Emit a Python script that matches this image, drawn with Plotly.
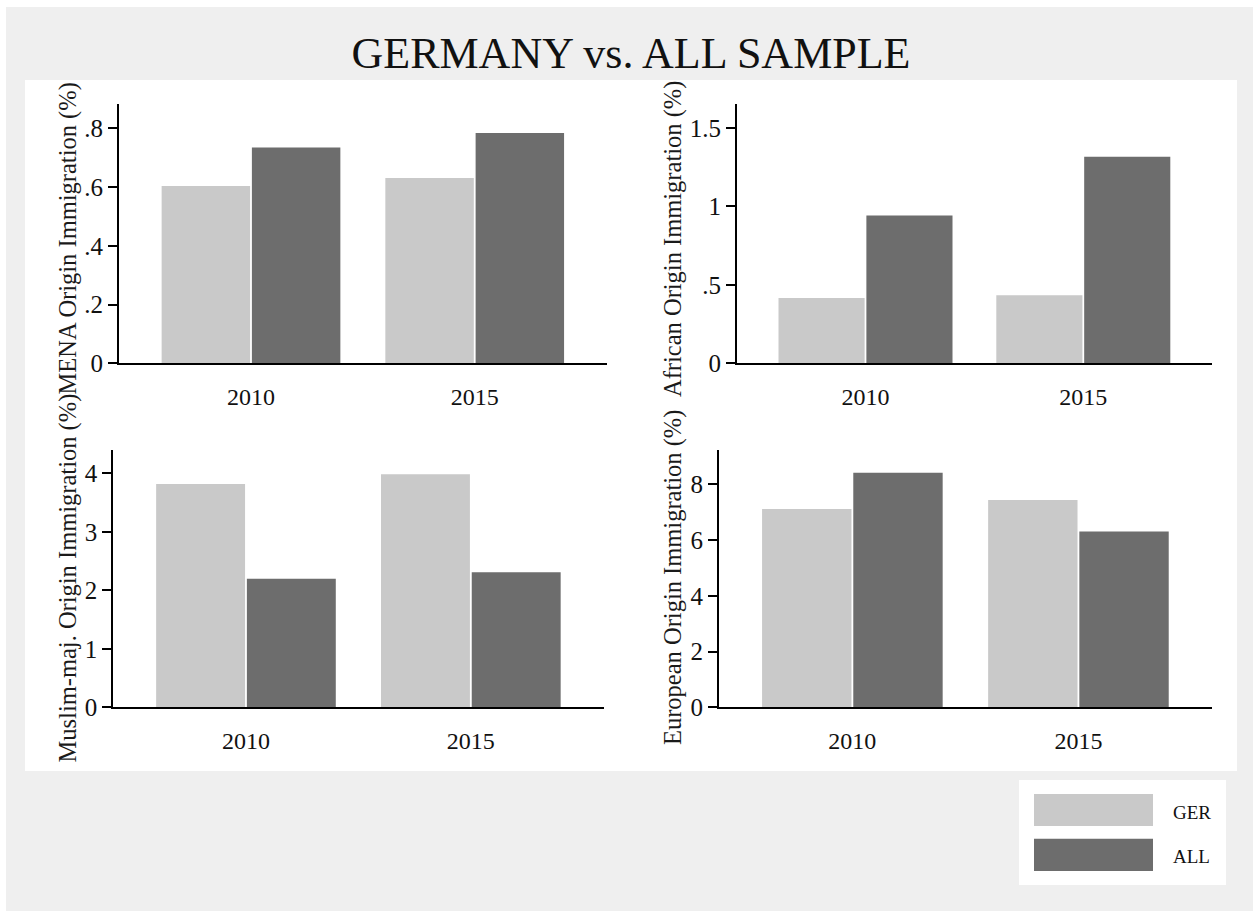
import plotly.graph_objects as go

W = 1253
REF_H = 911          # reference picture height (positions are measured in it)
H = 925              # figure height that fills the browser viewport

years = ["2010", "2015"]
series_names = ["GER", "ALL"]
series_colors = ["#c9c9c9", "#6d6d6d"]

mena_ger = [0.604, 0.631]
mena_all = [0.735, 0.784]
african_ger = [0.417, 0.434]
african_all = [0.942, 1.317]
muslim_ger = [3.817, 3.983]
muslim_all = [2.199, 2.31]
european_ger = [7.11, 7.44]
european_all = [8.41, 6.31]

y_titles = [
    "MENA Origin Immigration (%)",
    "African Origin Immigration (%)",
    "Muslim-maj. Origin Immigration (%)",
    "European Origin Immigration (%)",
]
y_tickvals = [
    [0, 0.2, 0.4, 0.6, 0.8],
    [0, 0.5, 1, 1.5],
    [0, 1, 2, 3, 4],
    [0, 2, 4, 6, 8],
]
y_ticktext = [
    ["0", ".2", ".4", ".6", ".8"],
    ["0", ".5", "1", "1.5"],
    ["0", "1", "2", "3", "4"],
    ["0", "2", "4", "6", "8"],
]
y_ranges = [[0, 0.883], [0, 1.653], [0, 4.398], [0, 9.23]]
title_text = "GERMANY vs. ALL SAMPLE"

panels = [
    (mena_ger, mena_all),
    (african_ger, african_all),
    (muslim_ger, muslim_all),
    (european_ger, european_all),
]

# reference-pixel geometry of the plot areas (left, right, top, bottom)
px_boxes = [
    (119, 606.7, 104, 363.3),
    (737, 1211.8, 104, 363.3),
    (113.3, 603.5, 450, 707.3),
    (719, 1211.8, 450, 707.3),
]
# axis-title centres in reference pixels
title_pos = [(67.5, 239), (673, 239), (67.5, 578), (673, 578)]

def fx(px):
    return px / W

def fy(py):
    return 1 - py / REF_H

FONT = "Liberation Serif"

fig = go.Figure()
layout = dict(
    width=W, height=H,
    margin=dict(l=0, r=0, t=0, b=0),
    paper_bgcolor="white",
    plot_bgcolor="rgba(0,0,0,0)",
    barmode="group",
    bargap=0.193,
    bargroupgap=0.02,
    showlegend=False,
    font=dict(family=FONT, color="#111111"),
    title=dict(text=title_text, x=fx(631), xanchor="center", y=fy(52), yanchor="middle",
               font=dict(family=FONT, size=44, color="#111111")),
)

annotations = []
for i, ((ger, allv), box) in enumerate(zip(panels, px_boxes)):
    n = "" if i == 0 else str(i + 1)
    xa, ya = "x" + n, "y" + n
    for vals, name, col in zip((ger, allv), series_names, series_colors):
        fig.add_trace(go.Bar(x=years, y=vals, name=name, marker=dict(color=col, line=dict(width=0)),
                             xaxis=xa, yaxis=ya))
    l, r, t, b = box
    layout["xaxis" + n] = dict(
        domain=[fx(l), fx(r)], anchor=ya, type="category", range=[-0.59, 1.59],
        showline=True, linecolor="black", linewidth=2, ticks="", showgrid=False,
        zeroline=False, ticklabelstandoff=11,
        tickfont=dict(family=FONT, size=24, color="#111111"),
    )
    layout["yaxis" + n] = dict(
        domain=[fy(b), fy(t)], anchor=xa, range=y_ranges[i],
        tickvals=y_tickvals[i], ticktext=y_ticktext[i],
        showline=True, linecolor="black", linewidth=2, ticks="outside", ticklen=9,
        tickwidth=1.5, tickcolor="black", showgrid=False, zeroline=False,
        tickfont=dict(family=FONT, size=25, color="#111111"),
    )
    tx, ty = title_pos[i]
    annotations.append(dict(
        text=y_titles[i], x=fx(tx), y=fy(ty), xref="paper", yref="paper",
        xanchor="center", yanchor="middle", textangle=-90, showarrow=False,
        font=dict(family=FONT, size=24.5, color="#1a1a1a"),
    ))

# legend text
legend_label_y = [812.7, 856.7]
for name, ly in zip(series_names, legend_label_y):
    annotations.append(dict(
        text=name, x=fx(1171), y=fy(ly), xref="paper", yref="paper",
        xanchor="left", yanchor="middle", showarrow=False,
        font=dict(family=FONT, size=19, color="#111111"),
    ))

def rect(x0, y0, x1, y1, color):
    return dict(type="rect", xref="paper", yref="paper", x0=fx(x0), x1=fx(x1), y0=fy(y1), y1=fy(y0),
                fillcolor=color, line=dict(width=0), layer="below")

shapes = [
    rect(6, 7, W, REF_H, "#efefef"),
    rect(25, 80, 1237, 771, "white"),
    rect(1019, 780, 1226, 885, "white"),
    rect(1034, 794, 1153, 826, series_colors[0]),
    rect(1034, 838.7, 1153, 871, series_colors[1]),
]

layout["annotations"] = annotations
layout["shapes"] = shapes
fig.update_layout(**layout)

fig.write_html("out.html", config={"displayModeBar": False},
               post_script="document.body.style.margin='0';document.body.style.overflow='hidden';")
